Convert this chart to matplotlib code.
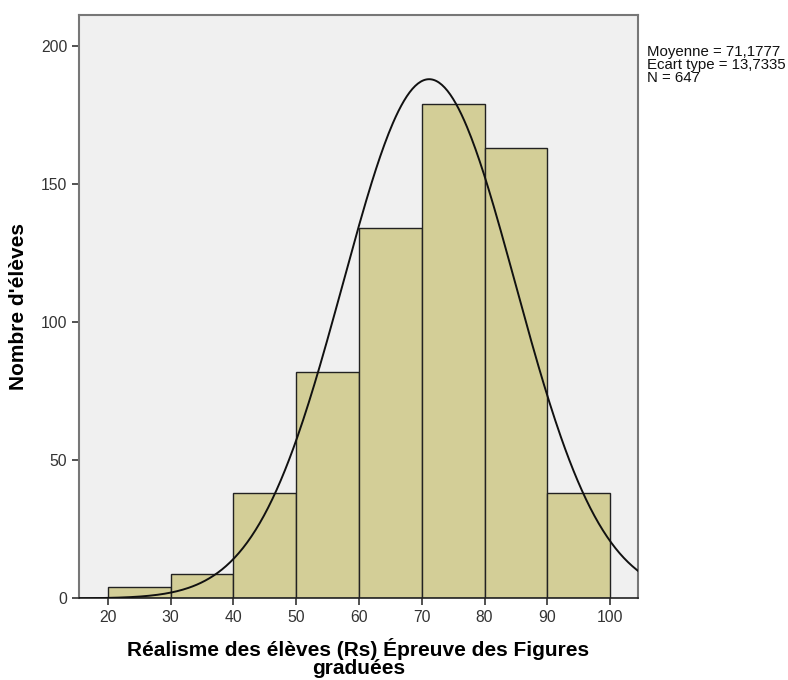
import numpy as np
import matplotlib
matplotlib.use("Agg")
import matplotlib.pyplot as plt

# Histogram bins and counts
bin_edges = [20, 30, 40, 50, 60, 70, 80, 90, 100]
counts = [4, 9, 38, 82, 134, 179, 163, 38]

# Summary statistics for the fitted normal curve
mean = 71.1777
std = 13.7335
n = 647

x_ticks = [20, 30, 40, 50, 60, 70, 80, 90, 100]
y_ticks = [0, 50, 100, 150, 200]

plt.rcParams['font.family'] = ['Liberation Sans', 'DejaVu Sans']

fig = plt.figure(figsize=(7.88, 6.8), dpi=100)
ax = fig.add_axes([0.1003, 0.120, 0.7093, 0.858])
ax.set_facecolor('#f0f0f0')

lefts = np.array(bin_edges[:-1])
widths = np.diff(bin_edges)
ax.bar(lefts, counts, width=widths, align='edge', color='#d3ce97',
       edgecolor='#222222', linewidth=1.0, zorder=2)

xlim = (15.4, 104.45)
xs = np.linspace(xlim[0], xlim[1], 400)
bw = widths[0]
ys = n * bw / (std * np.sqrt(2 * np.pi)) * np.exp(-0.5 * ((xs - mean) / std) ** 2)
ax.plot(xs, ys, color='#111111', linewidth=1.4, zorder=3)

ax.set_xlim(*xlim)
ax.set_ylim(0, 211.2)
ax.set_xticks(x_ticks)
ax.set_yticks(y_ticks)
ax.tick_params(axis='both', direction='out', length=5, width=1.2,
               labelsize=11.3, labelcolor='#333333', color='#333333')

for side in ['left', 'top', 'right']:
    ax.spines[side].set_color('#777777')
    ax.spines[side].set_linewidth(1.5)
ax.spines['bottom'].set_color('#222222')
ax.spines['bottom'].set_linewidth(1.2)

ax.set_xlabel("Réalisme des élèves (Rs) Épreuve des Figures\ngraduées",
              fontsize=15, fontweight='bold', linespacing=0.9)
ax.xaxis.set_label_coords(0.5, -0.068)
ax.set_ylabel("Nombre d'élèves", fontsize=15, fontweight='bold')
ax.yaxis.set_label_coords(-0.092, 0.5)

fig.text(647 / 788, 1 - 45 / 680,
         f"Moyenne = {mean:.4f}".replace('.', ',') + "\n"
         + f"Ecart type = {std:.4f}".replace('.', ',') + "\n"
         + f"N = {n}",
         fontsize=10.8, va='top', ha='left', linespacing=0.92, color='#111111')

fig.savefig('out.png', dpi=100, facecolor='white')
